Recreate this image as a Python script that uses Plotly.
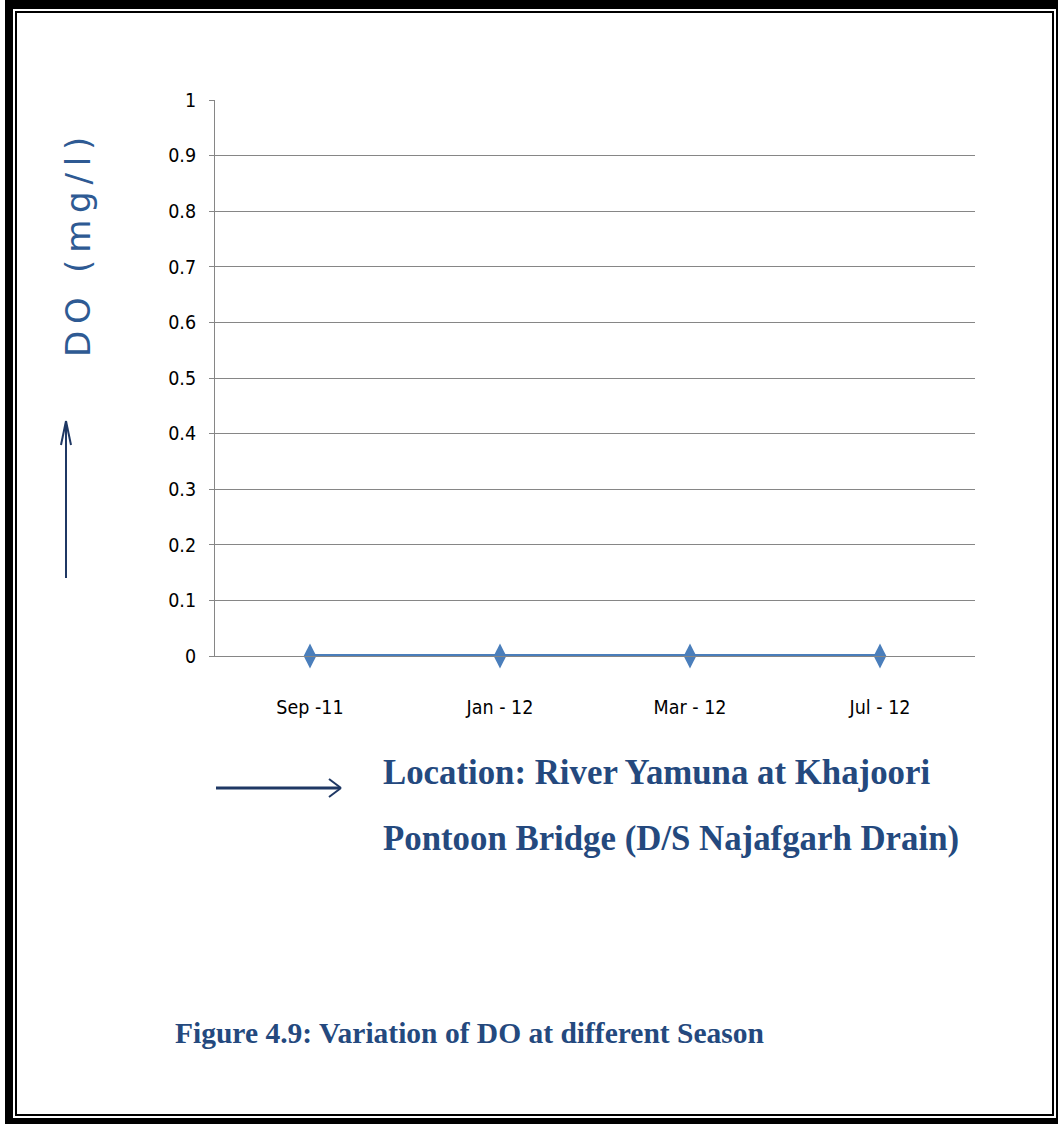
import plotly.graph_objects as go

# Sampling seasons and dissolved-oxygen readings (mg/l)
seasons = ["Sep -11", "Jan - 12", "Mar - 12", "Jul - 12"]
do_values = [0, 0, 0, 0]
y_ticks = [0, 0.1, 0.2, 0.3, 0.4, 0.5, 0.6, 0.7, 0.8, 0.9, 1]
y_tick_text = ["0", "0.1", "0.2", "0.3", "0.4", "0.5", "0.6", "0.7", "0.8", "0.9", "1"]

W, H = 1058, 1124
L, R, T, B = 215, 975, 100, 656  # plot-area edges in pixels


def px(x):
    return (x - L) / (R - L)


def py(y):
    return (B - y) / (B - T)


TICK_FONT = dict(family="DejaVu Sans Condensed, Liberation Sans Narrow, Arial Narrow, sans-serif",
                 size=19.5, color="#000000")
NAVY = "#1f3864"
TITLE_BLUE = "#2e5a93"
TEXT_BLUE = "#24497e"

fig = go.Figure()
fig.add_trace(go.Scatter(
    x=seasons, y=do_values, mode="lines+markers",
    line=dict(color="#4a7ebb", width=4),
    marker=dict(symbol="diamond-tall", size=18, color="#4a7ebb"),
    showlegend=False, cliponaxis=False,
))

shapes = []
# page frame: thick outer band with thin inner rule
shapes.append(dict(type="rect", xref="paper", yref="paper", layer="below",
                   x0=px(5), x1=px(1060), y0=py(-2), y1=py(1126),
                   fillcolor="#000000", line=dict(width=0)))
shapes.append(dict(type="rect", xref="paper", yref="paper", layer="below",
                   x0=px(13), x1=px(1056), y0=py(9), y1=py(1118),
                   fillcolor="#ffffff", line=dict(width=0)))
shapes.append(dict(type="rect", xref="paper", yref="paper", layer="below",
                   x0=px(16), x1=px(1053), y0=py(12), y1=py(1115),
                   fillcolor="rgba(0,0,0,0)", line=dict(color="#000000", width=2)))


def seg(x0, y0, x1, y1, w):
    shapes.append(dict(type="line", xref="paper", yref="paper",
                       x0=px(x0), y0=py(y0), x1=px(x1), y1=py(y1),
                       line=dict(color=NAVY, width=w)))


# upward arrow beside the y-axis title
seg(66, 578, 66, 421, 2)
seg(66, 421, 61, 445, 2)
seg(66, 421, 71, 445, 2)
# rightward arrow under the x-axis
seg(216, 788, 340, 788, 3)
seg(341, 788, 329, 779, 2)
seg(341, 788, 329, 797, 2)

THIN = "\u2009"
y_title = THIN.join("DO (mg/l)")

annotations = [
    dict(text=y_title, x=px(78), y=py(247), xref="paper", yref="paper",
         textangle=-90, showarrow=False, xanchor="center", yanchor="middle",
         font=dict(family="DejaVu Sans, Verdana, sans-serif", size=34, color=TITLE_BLUE)),
    dict(text="<b>Location: River Yamuna at Khajoori</b>", x=px(381), y=py(772),
         xref="paper", yref="paper", showarrow=False, xanchor="left", yanchor="middle",
         font=dict(family="Liberation Serif, Times New Roman, serif", size=34.8, color=TEXT_BLUE)),
    dict(text="<b>Pontoon Bridge (D/S Najafgarh Drain)</b>", x=px(381), y=py(838),
         xref="paper", yref="paper", showarrow=False, xanchor="left", yanchor="middle",
         font=dict(family="Liberation Serif, Times New Roman, serif", size=34.8, color=TEXT_BLUE)),
    dict(text="<b>Figure 4.9: Variation of DO at different Season</b>", x=px(173), y=py(1033),
         xref="paper", yref="paper", showarrow=False, xanchor="left", yanchor="middle",
         font=dict(family="Liberation Serif, Times New Roman, serif", size=29.5, color=TEXT_BLUE)),
]

fig.update_layout(
    width=W, height=H,
    margin=dict(l=L, r=W - R, t=T, b=H - B, pad=0),
    paper_bgcolor="#ffffff", plot_bgcolor="#ffffff",
    shapes=shapes, annotations=annotations,
    xaxis=dict(
        type="category", range=[-0.5, 3.5], showgrid=False,
        showline=True, linecolor="#868686", linewidth=1,
        ticks="", tickfont=TICK_FONT, ticklabelstandoff=34,
        zeroline=False, fixedrange=True,
    ),
    yaxis=dict(
        range=[0, 1], tickvals=y_ticks, ticktext=y_tick_text,
        showgrid=True, gridcolor="#868686", gridwidth=1,
        showline=True, linecolor="#868686", linewidth=1,
        ticks="outside", ticklen=5, tickcolor="#868686",
        tickfont=TICK_FONT, ticklabelstandoff=9,
        zeroline=False, fixedrange=True,
    ),
)

fig.write_html("out.html")
